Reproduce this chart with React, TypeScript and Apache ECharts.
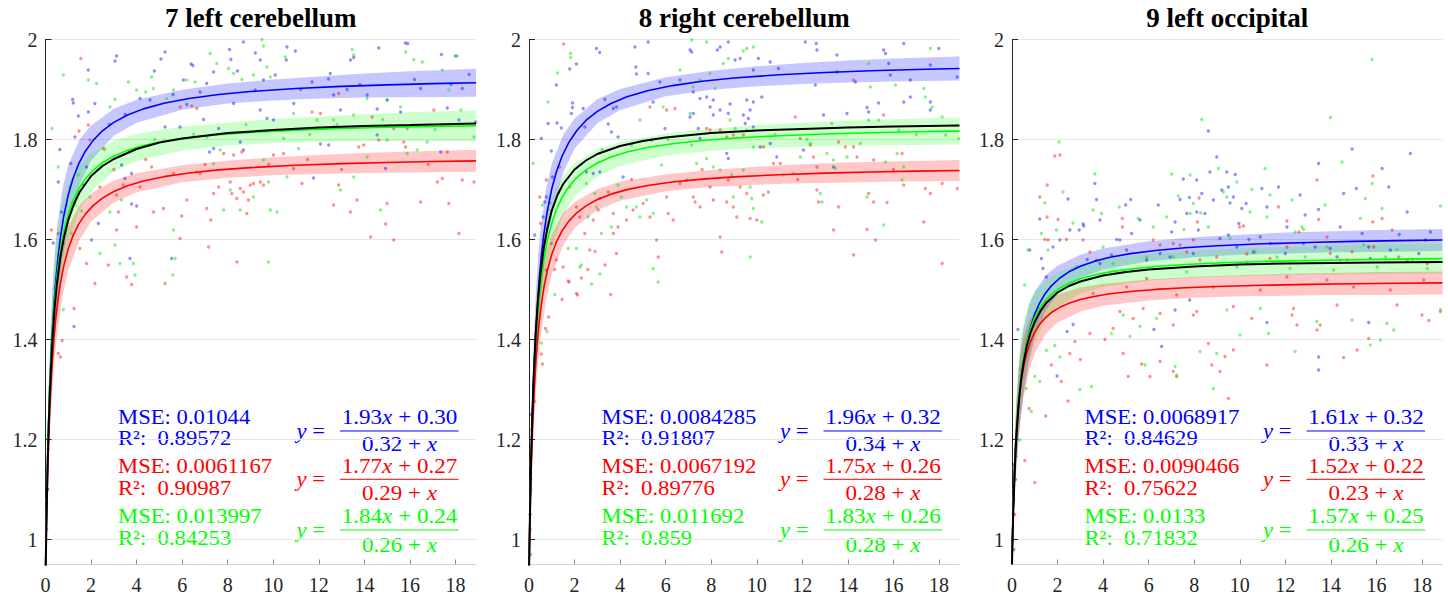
import React, { useEffect, useRef } from "react";
import * as echarts from "echarts";

// ---------------- DATA ----------------
const panelTitles = ["7 left cerebellum", "8 right cerebellum", "9 left occipital"];
const xTicks = [0, 2, 4, 6, 8, 10, 12, 14, 16, 18];
const yTicks = [1, 1.2, 1.4, 1.6, 1.8, 2];

// fitted model y = (a x + b) / (c + x) : [a, b, c]
const fitBlue = [[1.93, 0.30, 0.32], [1.96, 0.32, 0.34], [1.61, 0.32, 0.33]];
const fitRed = [[1.77, 0.27, 0.29], [1.75, 0.26, 0.28], [1.52, 0.22, 0.23]];
const fitGreen = [[1.84, 0.24, 0.26], [1.83, 0.26, 0.28], [1.57, 0.25, 0.26]];

const mseBlue = ["0.01044", "0.0084285", "0.0068917"];
const r2Blue = ["0.89572", "0.91807", "0.84629"];
const mseRed = ["0.0061167", "0.0067192", "0.0090466"];
const r2Red = ["0.90987", "0.89776", "0.75622"];
const mseGreen = ["0.013997", "0.011692", "0.0133"];
const r2Green = ["0.84253", "0.859", "0.71832"];

// x positions at which the fitted curves are drawn
const curveX = [0, 0.01, 0.02, 0.035, 0.05, 0.075, 0.1, 0.13, 0.16, 0.2, 0.25, 0.3, 0.37, 0.45, 0.55, 0.65, 0.8, 1, 1.2, 1.45, 1.75, 2.1, 2.5, 3, 3.6, 4.3, 5.2, 6.3, 7.6, 9, 11, 13, 15, 17, 18.9];

// confidence band half widths read at bandX
const bandX = [0, 0.05, 0.1, 0.15, 0.2, 0.3, 0.4, 0.5, 0.75, 1, 1.5, 2, 3, 4, 6, 8, 10, 12, 14, 16, 18.9];
const halfBlue = [
  [0.03, 0.04, 0.05, 0.06, 0.07, 0.08, 0.08, 0.08, 0.07, 0.06, 0.045, 0.035, 0.027, 0.023, 0.02, 0.02, 0.021, 0.022, 0.024, 0.026, 0.028],
  [0.03, 0.04, 0.05, 0.06, 0.07, 0.075, 0.075, 0.07, 0.06, 0.05, 0.038, 0.03, 0.024, 0.021, 0.019, 0.019, 0.02, 0.021, 0.022, 0.023, 0.024],
  [0.03, 0.04, 0.05, 0.06, 0.065, 0.07, 0.07, 0.065, 0.055, 0.045, 0.035, 0.028, 0.023, 0.021, 0.02, 0.02, 0.02, 0.021, 0.021, 0.022, 0.022],
];
const halfRed = [
  [0.03, 0.04, 0.045, 0.05, 0.055, 0.06, 0.06, 0.058, 0.05, 0.044, 0.035, 0.028, 0.022, 0.019, 0.017, 0.017, 0.018, 0.019, 0.02, 0.021, 0.022],
  [0.03, 0.04, 0.045, 0.05, 0.055, 0.06, 0.06, 0.055, 0.048, 0.04, 0.032, 0.026, 0.021, 0.019, 0.017, 0.017, 0.018, 0.019, 0.02, 0.02, 0.021],
  [0.03, 0.04, 0.05, 0.055, 0.06, 0.065, 0.065, 0.06, 0.05, 0.042, 0.033, 0.028, 0.024, 0.022, 0.021, 0.021, 0.021, 0.022, 0.022, 0.023, 0.023],
];
const halfGreen = [
  [0.03, 0.04, 0.05, 0.06, 0.07, 0.08, 0.08, 0.08, 0.07, 0.06, 0.046, 0.038, 0.031, 0.027, 0.024, 0.023, 0.024, 0.025, 0.027, 0.029, 0.031],
  [0.03, 0.04, 0.05, 0.06, 0.065, 0.07, 0.07, 0.065, 0.058, 0.05, 0.04, 0.033, 0.027, 0.024, 0.022, 0.022, 0.023, 0.024, 0.025, 0.026, 0.027],
  [0.03, 0.045, 0.055, 0.065, 0.07, 0.075, 0.075, 0.07, 0.06, 0.05, 0.04, 0.034, 0.03, 0.028, 0.027, 0.027, 0.028, 0.028, 0.029, 0.03, 0.03],
];

// black (pooled) curve
const blackX = [0, 0.03, 0.06, 0.1, 0.15, 0.2, 0.3, 0.4, 0.5, 0.65, 0.8, 1, 1.25, 1.5, 2, 2.5, 3, 4, 5, 6, 8, 10, 12, 14, 16, 18.9];
const blackY = [
  [0.925, 1.0, 1.075, 1.16, 1.24, 1.303, 1.397, 1.463, 1.511, 1.564, 1.602, 1.639, 1.671, 1.695, 1.727, 1.747, 1.761, 1.781, 1.794, 1.802, 1.813, 1.819, 1.824, 1.827, 1.829, 1.832],
  [0.929, 1.019, 1.094, 1.176, 1.256, 1.32, 1.415, 1.481, 1.53, 1.584, 1.621, 1.658, 1.689, 1.711, 1.74, 1.758, 1.771, 1.787, 1.797, 1.804, 1.813, 1.818, 1.821, 1.824, 1.826, 1.828],
  [0.95, 1.01, 1.06, 1.115, 1.17, 1.212, 1.276, 1.32, 1.352, 1.387, 1.412, 1.435, 1.457, 1.473, 1.494, 1.507, 1.516, 1.528, 1.535, 1.54, 1.546, 1.55, 1.552, 1.553, 1.554, 1.555],
];

// scatter samples
const p1Blue = [
  [8.69, 1.995], [6.39, 1.951], [6.47, 1.948], [3.05, 1.957], [3.12, 1.967], [1.88, 1.939], [1.19, 1.88], [1.22, 1.873], [1.44, 1.847], [0.63, 1.78],
  [0.56, 1.715], [0.7, 1.655], [0.34, 1.593], [1.11, 1.752], [1.88, 1.855], [2.17, 1.872], [5.25, 1.975], [5.07, 1.961], [4.78, 1.937], [8.08, 1.98],
  [8.14, 1.96], [8.43, 1.937], [9.21, 1.973], [9.43, 1.959], [10.6, 1.985], [10.97, 1.977], [10.57, 1.959], [14.63, 1.983], [15.8, 1.993], [15.9, 1.992],
  [17.38, 1.97], [18.0, 1.967], [16.47, 1.902], [18.3, 1.902], [12.5, 1.932], [12.43, 1.921], [13.39, 1.959], [13.53, 1.964], [13.24, 1.9], [17.64, 1.863],
  [15.59, 1.855], [14.56, 1.861], [12.95, 1.859], [12.07, 1.791], [12.43, 1.789], [11.77, 1.723], [14.93, 1.742], [14.56, 1.809], [17.35, 1.775], [18.15, 1.839],
  [18.89, 1.835], [7.2, 1.775], [7.38, 1.782], [8.55, 1.795], [8.69, 1.779], [7.6, 1.822], [9.43, 1.859], [9.72, 1.842], [10.01, 1.839], [8.26, 1.872],
  [6.94, 1.84], [5.91, 1.825], [5.25, 1.825], [3.78, 1.732], [3.49, 1.722], [3.34, 1.749], [3.78, 1.671], [4.0, 1.667], [3.71, 1.562], [5.54, 1.562],
  [2.32, 1.632], [2.02, 1.599], [1.66, 1.709], [1.8, 1.745], [1.29, 1.805], [9.57, 1.919], [7.38, 1.935], [7.08, 1.912], [10.09, 1.929], [11.7, 1.915],
  [12.65, 1.889], [14.12, 1.889], [15.0, 1.879], [4.59, 1.879], [4.15, 1.882], [6.06, 1.919], [6.79, 1.895], [9.21, 1.899], [10.9, 1.872], [1.25, 1.426],
  [0.05, 1.02], [0.08, 1.1], [0.12, 1.2], [2.8, 1.83], [3.5, 1.85], [5.6, 1.89], [6.2, 1.87], [11.2, 1.9], [13.8, 1.91], [16.2, 1.92], [17.8, 1.91], [18.6, 1.93],
];
const p1Red = [
  [1.55, 1.962], [1.47, 1.817], [1.88, 1.829], [1.95, 1.799], [2.54, 1.782], [0.26, 1.619], [0.56, 1.612], [0.78, 1.592], [1.51, 1.582], [1.8, 1.552],
  [2.17, 1.512], [2.76, 1.549], [3.56, 1.525], [3.78, 1.51], [5.25, 1.512], [3.12, 1.619], [3.2, 1.655], [3.12, 1.689], [3.42, 1.709], [4.0, 1.625],
  [4.74, 1.655], [5.18, 1.662], [5.91, 1.602], [5.98, 1.647], [7.16, 1.585], [7.26, 1.639], [7.38, 1.692], [7.6, 1.705], [8.11, 1.715], [8.18, 1.692],
  [8.4, 1.682], [8.55, 1.702], [8.69, 1.695], [8.84, 1.652], [8.91, 1.679], [8.99, 1.709], [9.13, 1.712], [9.43, 1.715], [9.57, 1.709], [8.4, 1.555],
  [7.82, 1.772], [8.26, 1.769], [8.62, 1.775], [10.01, 1.769], [10.45, 1.772], [10.89, 1.742], [11.26, 1.712], [11.7, 1.855], [12.07, 1.852], [12.65, 1.669],
  [12.87, 1.709], [13.39, 1.655], [13.75, 1.785], [13.97, 1.789], [13.68, 1.679], [14.27, 1.605], [14.63, 1.799], [15.0, 1.672], [14.93, 1.631], [15.29, 1.599],
  [15.73, 1.795], [15.81, 1.785], [16.47, 1.675], [17.2, 1.715], [17.42, 1.722], [17.71, 1.672], [18.15, 1.612], [18.3, 1.719], [18.81, 1.715], [17.64, 1.775],
  [15.88, 1.822], [15.29, 1.822], [6.64, 1.862], [6.42, 1.867], [5.91, 1.865], [17.05, 1.859], [12.65, 1.825], [14.34, 1.845], [12.87, 1.892], [6.2, 1.679],
  [7.08, 1.662], [4.66, 1.745], [5.62, 1.732], [6.79, 1.732], [4.15, 1.705], [2.39, 1.705], [1.25, 1.462], [0.73, 1.398], [0.56, 1.372], [0.66, 1.365],
  [0.12, 1.18], [0.1, 1.1], [0.2, 1.3], [3.0, 1.74], [4.4, 1.76], [7.0, 1.75], [9.8, 1.75], [11.5, 1.76], [13.0, 1.74], [16.8, 1.75],
];
const p1Green = [
  [0.78, 1.929], [0.29, 1.822], [0.56, 1.745], [0.92, 1.669], [1.14, 1.612], [1.29, 1.669], [1.58, 1.657], [1.95, 1.685], [2.39, 1.572], [3.05, 1.589],
  [3.27, 1.552], [3.93, 1.529], [5.59, 1.529], [5.69, 1.562], [5.62, 1.619], [3.86, 1.552], [2.83, 1.865], [3.05, 1.88], [3.64, 1.915], [4.0, 1.899],
  [4.66, 1.925], [4.4, 1.895], [4.74, 1.902], [5.32, 1.882], [5.62, 1.899], [6.2, 1.919], [6.57, 1.915], [7.23, 1.972], [7.52, 1.952], [8.04, 1.942],
  [8.26, 1.932], [8.62, 1.92], [9.13, 1.929], [9.5, 2.0], [9.57, 1.987], [9.72, 1.945], [9.87, 1.925], [10.53, 1.965], [13.46, 1.98], [13.53, 1.969],
  [16.17, 1.96], [15.81, 1.975], [16.54, 1.955], [17.42, 1.939], [18.08, 1.967], [17.71, 1.899], [18.23, 1.859], [15.59, 1.865], [15.0, 1.879], [14.12, 1.882],
  [13.53, 1.849], [12.65, 1.839], [11.92, 1.839], [10.89, 1.852], [10.45, 1.802], [11.11, 1.782], [10.6, 1.725], [9.57, 1.759], [9.79, 1.715], [9.87, 1.659],
  [10.16, 1.655], [9.79, 1.555], [9.13, 1.685], [8.55, 1.659], [7.82, 1.659], [8.11, 1.699], [7.08, 1.805], [7.38, 1.752], [7.67, 1.779], [6.64, 1.735],
  [12.95, 1.699], [13.53, 1.725], [14.71, 1.659], [15.88, 1.772], [16.32, 1.779], [16.76, 1.795], [15.0, 1.799], [18.81, 1.805], [14.12, 1.765], [3.34, 1.679],
  [2.83, 1.655], [1.44, 1.729], [1.07, 1.705], [2.24, 1.912], [1.88, 1.919], [0.78, 1.46], [0.19, 1.305], [0.1, 1.2], [0.05, 1.08],
  [2.6, 1.78], [4.8, 1.8], [6.5, 1.81], [8.8, 1.83], [11.6, 1.81], [12.8, 1.83], [14.8, 1.84], [17.1, 1.82],
];

const p2Blue = [
  [4.65, 1.985], [5.23, 1.995], [4.72, 1.931], [4.69, 1.945], [2.96, 1.982], [3.1, 1.974], [2.08, 1.951], [1.79, 1.941], [1.2, 1.909], [1.23, 1.833],
  [1.42, 1.823], [1.91, 1.873], [1.91, 1.864], [1.86, 1.852], [2.38, 1.862], [2.45, 1.825], [0.84, 1.832], [0.54, 1.802], [0.98, 1.777], [1.03, 1.725],
  [0.76, 1.685], [0.69, 1.675], [0.62, 1.645], [0.25, 1.609], [3.33, 1.88], [3.7, 1.862], [3.84, 1.865], [3.48, 1.831], [3.62, 1.815], [3.91, 1.805],
  [4.13, 1.725], [2.52, 1.735], [2.82, 1.732], [3.11, 1.735], [5.45, 1.875], [5.97, 1.822], [7.07, 1.979], [7.14, 1.975], [8.39, 1.985], [8.75, 1.995],
  [8.27, 1.979], [9.05, 1.959], [9.27, 1.962], [10.07, 1.962], [10.59, 1.955], [9.85, 1.939], [10.95, 1.942], [12.13, 1.995], [12.61, 1.992], [12.64, 1.979],
  [13.52, 1.969], [15.57, 1.979], [15.65, 1.972], [16.45, 1.992], [17.99, 1.982], [15.79, 1.952], [17.62, 1.949], [7.21, 1.895], [7.51, 1.882], [7.8, 1.885],
  [7.95, 1.865], [8.09, 1.879], [8.39, 1.859], [8.75, 1.852], [8.83, 1.871], [9.56, 1.879], [9.71, 1.859], [9.85, 1.875], [9.41, 1.849], [10.22, 1.885],
  [7.07, 1.845], [7.21, 1.852], [7.43, 1.822], [7.51, 1.802], [8.09, 1.849], [9.49, 1.832], [9.63, 1.842], [9.85, 1.825], [8.68, 1.772], [8.75, 1.762],
  [10.15, 1.785], [10.59, 1.792], [10.88, 1.765], [12.05, 1.779], [12.93, 1.849], [13.96, 1.852], [14.91, 1.855], [14.84, 1.864], [15.35, 1.873], [16.45, 1.875],
  [17.62, 1.875], [17.62, 1.859], [12.57, 1.909], [13.52, 1.935], [14.33, 1.915], [15.86, 1.929], [16.74, 1.919], [18.8, 1.925], [13.37, 1.745], [16.74, 1.885],
  [5.75, 1.915], [6.63, 1.919], [5.23, 1.932], [0.05, 1.05], [0.08, 1.12], [0.1, 1.25], [0.06, 0.97],
];
const p2Red = [
  [1.52, 1.991], [0.47, 1.685], [0.51, 1.632], [0.91, 1.673], [0.98, 1.592], [1.2, 1.559], [1.5, 1.545], [1.72, 1.517], [2.08, 1.492], [0.76, 1.719],
  [1.35, 1.745], [1.79, 1.705], [2.08, 1.665], [2.23, 1.645], [2.45, 1.612], [2.67, 1.579], [2.82, 1.639], [3.04, 1.659], [3.11, 1.682], [3.48, 1.695],
  [3.7, 1.652], [3.7, 1.612], [3.84, 1.572], [3.91, 1.625], [4.28, 1.639], [4.57, 1.659], [5.01, 1.672], [5.31, 1.645], [5.6, 1.599], [5.67, 1.565],
  [6.11, 1.652], [6.33, 1.639], [6.63, 1.712], [6.92, 1.719], [7.21, 1.685], [7.29, 1.675], [7.51, 1.665], [7.95, 1.705], [8.09, 1.679], [8.39, 1.605],
  [8.46, 1.575], [8.68, 1.675], [8.75, 1.719], [8.97, 1.665], [9.12, 1.645], [9.27, 1.705], [9.56, 1.692], [9.71, 1.642], [10.0, 1.639], [10.29, 1.689],
  [10.51, 1.695], [10.73, 1.752], [6.04, 1.859], [6.41, 1.862], [5.31, 1.865], [5.38, 1.799], [7.8, 1.822], [7.95, 1.819], [8.39, 1.819], [8.68, 1.805],
  [8.97, 1.809], [9.41, 1.809], [10.29, 1.785], [11.03, 1.752], [11.69, 1.845], [11.91, 1.802], [12.35, 1.789], [12.49, 1.765], [12.64, 1.745], [13.59, 1.795],
  [13.89, 1.785], [14.25, 1.785], [14.25, 1.919], [12.71, 1.675], [12.64, 1.699], [13.37, 1.619], [13.59, 1.665], [14.25, 1.569], [14.91, 1.692], [15.13, 1.675],
  [15.21, 1.599], [14.84, 1.62], [15.72, 1.674], [16.45, 1.709], [17.33, 1.635], [17.4, 1.702], [17.62, 1.692], [18.14, 1.552], [18.8, 1.702], [18.14, 1.712],
  [15.57, 1.849], [16.38, 1.772], [14.4, 1.765], [15.13, 1.759], [6.04, 1.685], [0.59, 1.351], [0.54, 1.371], [0.72, 1.422], [0.86, 1.445], [0.76, 1.539],
  [1.13, 1.54], [1.45, 1.48], [1.76, 1.515], [2.13, 1.489], [2.58, 1.54], [2.3, 1.523], [2.9, 1.576], [3.34, 1.549], [3.59, 1.49], [0.25, 1.276],
  [0.05, 1.02], [0.07, 1.1], [0.08, 1.18], [4.5, 1.72], [7.6, 1.74], [11.8, 1.72], [16.0, 1.74],
];
const p2Green = [
  [0.18, 1.752], [1.25, 1.933], [1.83, 1.972], [1.83, 1.964], [0.84, 1.875], [0.59, 1.669], [0.84, 1.659], [1.72, 1.582], [2.08, 1.582], [2.23, 1.545],
  [2.52, 1.712], [2.6, 1.645], [2.89, 1.692], [2.96, 1.665], [3.18, 1.612], [3.62, 1.625], [3.91, 1.709], [4.06, 1.685], [4.28, 1.665], [4.72, 1.665],
  [4.87, 1.645], [5.16, 1.679], [5.45, 1.652], [5.67, 1.515], [5.82, 1.749], [5.45, 1.542], [6.63, 1.939], [7.14, 1.999], [7.8, 1.995], [7.21, 1.905],
  [7.51, 1.919], [7.95, 1.932], [8.53, 1.952], [8.75, 1.962], [9.41, 1.977], [9.56, 1.982], [9.85, 1.985], [8.17, 1.902], [7.07, 1.852], [8.83, 1.839],
  [9.05, 1.822], [9.56, 1.819], [9.85, 1.785], [7.14, 1.789], [7.36, 1.752], [7.8, 1.762], [8.09, 1.745], [8.39, 1.739], [8.9, 1.729], [9.41, 1.739],
  [9.71, 1.705], [9.78, 1.682], [8.97, 1.685], [9.85, 1.662], [10.22, 1.635], [9.71, 1.565], [10.59, 1.805], [11.17, 1.729], [11.61, 1.732], [12.35, 1.792],
  [12.79, 1.692], [12.86, 1.675], [13.37, 1.759], [13.45, 1.742], [13.3, 1.832], [13.96, 1.765], [14.91, 1.952], [14.99, 1.905], [14.91, 1.839], [15.35, 1.839],
  [15.65, 1.755], [16.16, 1.772], [16.23, 1.819], [16.09, 1.909], [16.45, 1.745], [16.38, 1.719], [17.4, 1.885], [17.33, 1.902], [17.62, 1.982], [17.7, 1.865],
  [18.14, 1.845], [18.29, 1.809], [18.87, 1.802], [14.84, 1.685], [15.57, 1.629], [14.55, 1.792], [13.08, 1.772], [11.91, 1.765], [4.5, 1.789], [5.89, 1.865],
  [4.87, 1.839], [3.11, 1.531], [2.75, 1.511], [1.13, 1.49], [0.79, 1.416], [0.54, 1.393], [2.3, 1.549], [0.05, 1.05], [0.07, 1.15], [0.1, 1.22], [0.06, 1.1],
  [3.2, 1.78], [6.1, 1.8], [10.8, 1.81], [12.2, 1.8], [17.0, 1.81],
];

const p3Blue = [
  [1.22, 1.641], [0.78, 1.579], [1.29, 1.562], [1.36, 1.542], [1.51, 1.525], [1.8, 1.585], [2.1, 1.599], [3.12, 1.631], [3.15, 1.627], [2.95, 1.619],
  [3.64, 1.712], [3.71, 1.68], [2.46, 1.681], [2.54, 1.619], [3.86, 1.639], [4.99, 1.669], [5.21, 1.68], [5.62, 1.639], [5.25, 1.612], [4.74, 1.599],
  [4.37, 1.569], [6.42, 1.669], [7.01, 1.615], [7.16, 1.635], [7.38, 1.68], [7.52, 1.721], [7.67, 1.652], [7.79, 1.684], [8.11, 1.719], [8.11, 1.655],
  [8.18, 1.619], [8.33, 1.692], [8.47, 1.652], [8.62, 1.817], [8.84, 1.679], [8.69, 1.735], [8.99, 1.765], [9.21, 1.699], [9.43, 1.735], [9.5, 1.705],
  [9.57, 1.673], [9.72, 1.685], [9.8, 1.73], [9.96, 1.632], [10.09, 1.662], [10.28, 1.672], [9.5, 1.609], [9.13, 1.602], [10.6, 1.575], [10.97, 1.702],
  [11.19, 1.665], [11.7, 1.705], [12.07, 1.625], [12.65, 1.689], [12.87, 1.649], [13.46, 1.752], [13.46, 1.66], [14.41, 1.625], [14.56, 1.692], [14.93, 1.781],
  [15.12, 1.702], [15.37, 1.612], [15.66, 1.585], [16.25, 1.742], [16.54, 1.705], [17.35, 1.655], [17.49, 1.772], [18.37, 1.615], [17.86, 1.572], [13.97, 1.582],
  [13.31, 1.585], [12.0, 1.572], [11.33, 1.592], [10.9, 1.605], [6.94, 1.565], [5.91, 1.559], [6.5, 1.572], [3.86, 1.552], [5.03, 1.579], [7.96, 1.572],
  [9.87, 1.585], [12.8, 1.592], [14.27, 1.565], [15.73, 1.562], [16.61, 1.579], [18.15, 1.599], [2.42, 1.416], [2.68, 1.43], [0.26, 1.42], [6.23, 1.42],
  [11.19, 1.434], [13.46, 1.365], [13.46, 1.339], [15.66, 1.434], [7.16, 1.459], [7.8, 1.479], [0.1, 1.15], [0.15, 1.12], [0.05, 1.05], [0.08, 0.98],
  [1.98, 1.327], [6.57, 1.386], [3.3, 1.56], [4.6, 1.6], [10.4, 1.6], [17.0, 1.61],
];
const p3Red = [
  [1.22, 1.685], [1.55, 1.709], [1.88, 1.767], [2.1, 1.769], [1.54, 1.645], [2.02, 1.64], [1.44, 1.6], [1.58, 1.599], [2.39, 1.6], [3.12, 1.599],
  [3.42, 1.575], [3.71, 1.559], [4.84, 1.642], [4.85, 1.625], [6.2, 1.599], [6.5, 1.589], [7.08, 1.592], [7.38, 1.589], [8.14, 1.635], [8.21, 1.683],
  [7.96, 1.599], [7.67, 1.575], [8.25, 1.559], [8.99, 1.565], [9.99, 1.625], [10.16, 1.627], [10.31, 1.571], [11.7, 1.665], [12.07, 1.637], [12.6, 1.615],
  [13.39, 1.719], [13.46, 1.64], [13.83, 1.605], [14.41, 1.559], [15.84, 1.727], [15.84, 1.635], [16.25, 1.642], [16.69, 1.619], [16.98, 1.565], [15.88, 1.585],
  [14.93, 1.575], [13.97, 1.572], [12.07, 1.585], [11.33, 1.562], [17.35, 1.559], [18.23, 1.552], [0.75, 1.262], [1.0, 1.114], [0.56, 1.158], [1.48, 1.247],
  [2.46, 1.277], [2.17, 1.316], [1.73, 1.349], [2.54, 1.372], [3.0, 1.36], [3.42, 1.412], [2.76, 1.396], [4.08, 1.4], [4.44, 1.422], [4.88, 1.372],
  [5.1, 1.326], [5.69, 1.351], [6.06, 1.326], [6.5, 1.356], [7.08, 1.429], [7.08, 1.336], [7.23, 1.326], [7.96, 1.449], [8.11, 1.456], [8.62, 1.392],
  [8.77, 1.349], [9.13, 1.336], [9.35, 1.366], [9.5, 1.282], [9.72, 1.379], [10.53, 1.442], [11.19, 1.349], [12.29, 1.449], [12.51, 1.429], [13.39, 1.419],
  [13.53, 1.429], [14.27, 1.469], [14.56, 1.364], [15.15, 1.379], [15.66, 1.402], [18.0, 1.449], [18.3, 1.438], [18.81, 1.456], [16.9, 1.469], [12.36, 1.462],
  [9.72, 1.466], [6.5, 1.452], [5.76, 1.462], [5.32, 1.442], [4.74, 1.456], [0.05, 1.0], [0.08, 1.1], [0.1, 1.15], [0.12, 1.05], [3.56, 1.492],
  [5.03, 1.505], [7.23, 1.489], [8.84, 1.505], [10.9, 1.499], [13.83, 1.519], [15.0, 1.505], [16.61, 1.499], [18.08, 1.519], [5.91, 1.522], [12.07, 1.525],
];
const p3Green = [
  [2.07, 1.795], [8.33, 1.84], [13.98, 1.844], [15.81, 1.96], [1.44, 1.673], [1.58, 1.579], [0.7, 1.579], [0.56, 1.509], [2.68, 1.633], [3.56, 1.659],
  [3.64, 1.731], [3.93, 1.652], [4.0, 1.585], [4.71, 1.665], [5.54, 1.642], [7.01, 1.731], [7.3, 1.687], [7.55, 1.62], [7.82, 1.729], [7.96, 1.672],
  [8.28, 1.653], [8.62, 1.625], [9.06, 1.742], [9.28, 1.695], [9.43, 1.685], [9.87, 1.715], [10.45, 1.655], [10.53, 1.7], [11.11, 1.742], [11.19, 1.645],
  [11.33, 1.689], [12.43, 1.615], [12.8, 1.62], [12.73, 1.625], [13.75, 1.669], [14.49, 1.755], [15.29, 1.642], [15.51, 1.682], [15.81, 1.712], [16.25, 1.662],
  [16.9, 1.58], [18.81, 1.667], [12.29, 1.679], [2.24, 1.695], [1.95, 1.619], [1.29, 1.612], [6.2, 1.625], [6.79, 1.645], [7.82, 1.652], [9.57, 1.602],
  [10.31, 1.555], [11.63, 1.565], [12.87, 1.565], [14.71, 1.559], [16.4, 1.565], [17.57, 1.559], [15.44, 1.589], [13.83, 1.585], [10.67, 1.575], [7.08, 1.565],
  [5.91, 1.565], [4.44, 1.552], [1.0, 1.326], [1.51, 1.378], [1.88, 1.388], [2.1, 1.365], [2.98, 1.3], [3.49, 1.306], [4.37, 1.412], [4.88, 1.449],
  [5.18, 1.406], [5.62, 1.426], [5.84, 1.349], [6.35, 1.442], [7.16, 1.346], [7.23, 1.329], [8.26, 1.376], [8.84, 1.302], [8.99, 1.372], [9.43, 1.459],
  [10.01, 1.409], [10.9, 1.462], [11.26, 1.412], [12.43, 1.376], [13.39, 1.436], [14.93, 1.439], [15.73, 1.389], [16.17, 1.399], [16.46, 1.432], [16.76, 1.419],
  [18.81, 1.46], [0.41, 1.339], [0.63, 1.302], [0.85, 1.256], [1.22, 1.316], [0.34, 1.199], [0.19, 1.166], [0.05, 1.0], [0.08, 1.08], [2.83, 1.545],
  [5.32, 1.539], [7.67, 1.535], [9.87, 1.545], [12.21, 1.542], [14.12, 1.539], [16.03, 1.545], [18.23, 1.542],
];

const ptsBlue = [p1Blue, p2Blue, p3Blue];
const ptsRed = [p1Red, p2Red, p3Red];
const ptsGreen = [p1Green, p2Green, p3Green];

// ---------------- LAYOUT / STYLE ----------------
const X_MAX = 18.9;
const Y_MIN = 0.95;
const Y_MAX = 2;
const gridLeft = [45.5, 529, 1012];
const gridWidth = 430.5;
const gridTop = 39.5;
const gridHeight = 525;
const SERIF = "Liberation Serif";
const BLUE = "#0000ff";
const RED = "#ff0000";
const GREEN = "#00ff00";
const AXIS_TXT = "#262626";
const ANN_SIZE = 21;

function fitValue(f: number[], x: number) {
  return (f[0] * x + f[1]) / (f[2] + x);
}

function bandSeries(i: number, f: number[], half: number[], fill: string) {
  const data = bandX.map((x, k) => {
    const c = fitValue(f, x);
    return [x, c - half[k], c + half[k]];
  });
  return {
    type: "custom",
    xAxisIndex: i,
    yAxisIndex: i,
    silent: true,
    clip: true,
    encode: { x: 0, y: [1, 2] },
    data,
    renderItem: (params: any, api: any) => {
      if (params.dataIndex !== 0) return null;
      const bottom = api.coord([0, Y_MIN])[1];
      const top = api.coord([0, Y_MAX])[1];
      const up = data.map((d) => api.coord([d[0], d[2]]));
      const lo = data.map((d) => api.coord([d[0], d[1]])).reverse();
      const pts = up.concat(lo).map((p: number[]) => [p[0], Math.min(bottom, Math.max(top, p[1]))]);
      return { type: "polygon", shape: { points: pts }, style: { fill } };
    },
  };
}

function scatterSeries(i: number, pts: number[][], color: string) {
  return {
    type: "scatter",
    xAxisIndex: i,
    yAxisIndex: i,
    silent: true,
    symbol: "circle",
    symbolSize: 3.3,
    itemStyle: { color },
    data: pts,
  };
}

function curveSeries(i: number, f: number[], color: string) {
  return {
    type: "line",
    xAxisIndex: i,
    yAxisIndex: i,
    silent: true,
    showSymbol: false,
    symbol: "none",
    clip: true,
    lineStyle: { color, width: 1.6 },
    data: curveX.map((x) => [x, fitValue(f, x)]),
  };
}

function annotate(i: number) {
  const L = gridLeft[i];
  const els: any[] = [];
  const rows = [
    { c: BLUE, mse: mseBlue[i], r2: r2Blue[i], f: fitBlue[i], y1: 417.3, y2: 438.3, num: 416.7, bar: 431, den: 443.5 },
    { c: RED, mse: mseRed[i], r2: r2Red[i], f: fitRed[i], y1: 466.7, y2: 488.3, num: 465.5, bar: 479.3, den: 492.7 },
    { c: GREEN, mse: mseGreen[i], r2: r2Green[i], f: fitGreen[i], y1: 516.7, y2: 538.3, num: 515.7, bar: 530, den: 545 },
  ];
  const mk = (x: number, y: number, text: string, fill: string, align: string, sx: number) => ({
    type: "text",
    x,
    y,
    scaleX: sx,
    silent: true,
    style: {
      text,
      fill,
      fontFamily: SERIF,
      fontSize: ANN_SIZE,
      textAlign: align,
      textVerticalAlign: "middle",
      align,
      verticalAlign: "middle",
      rich: { i: { fontFamily: SERIF, fontSize: ANN_SIZE, fontStyle: "italic", fill } },
    },
  });
  rows.forEach((r) => {
    els.push(mk(L + 72.5, r.y1, `MSE: ${r.mse}`, r.c, "left", 1.08));
    els.push(mk(L + 72.5, r.y2, `R\u00B2:  ${r.r2}`, r.c, "left", 1.08));
    els.push(mk(L + 251, r.bar, `{i|y} = `, r.c, "left", 1.08));
    els.push(mk(L + 354, r.num, `${r.f[0].toFixed(2)}{i|x} + ${r.f[1].toFixed(2)}`, r.c, "center", 1.1));
    els.push(mk(L + 354, r.den, `${r.f[2].toFixed(2)} + {i|x}`, r.c, "center", 1.1));
    els.push({
      type: "line",
      silent: true,
      shape: { x1: L + 294.5, y1: r.bar, x2: L + 413, y2: r.bar },
      style: { stroke: r.c, lineWidth: 1 },
    });
  });
  return els;
}

function buildOption() {
  const idx = [0, 1, 2];
  const series: any[] = [];
  idx.forEach((i) => {
    series.push(bandSeries(i, fitBlue[i], halfBlue[i], "rgba(0,0,255,0.22)"));
    series.push(bandSeries(i, fitGreen[i], halfGreen[i], "rgba(0,255,0,0.2)"));
    series.push(bandSeries(i, fitRed[i], halfRed[i], "rgba(255,0,0,0.22)"));
    series.push(scatterSeries(i, ptsBlue[i], "rgba(0,0,255,0.55)"));
    series.push(scatterSeries(i, ptsRed[i], "rgba(255,0,0,0.55)"));
    series.push(scatterSeries(i, ptsGreen[i], "rgba(0,225,0,0.6)"));
    series.push(curveSeries(i, fitBlue[i], BLUE));
    series.push(curveSeries(i, fitGreen[i], GREEN));
    series.push(curveSeries(i, fitRed[i], RED));
    series.push({
      type: "line",
      xAxisIndex: i,
      yAxisIndex: i,
      silent: true,
      showSymbol: false,
      symbol: "none",
      clip: true,
      lineStyle: { color: "#000", width: 2 },
      data: blackX.map((x, k) => [x, blackY[i][k]]),
    });
  });

  return {
    animation: false,
    backgroundColor: "#fff",
    textStyle: { fontFamily: SERIF },
    title: idx.map((i) => ({
      text: panelTitles[i],
      left: gridLeft[i] + gridWidth / 2,
      top: 4,
      textAlign: "center",
      padding: 0,
      textStyle: { fontFamily: SERIF, fontWeight: "bold", fontSize: 27, color: "#000" },
    })),
    grid: idx.map((i) => ({ left: gridLeft[i], top: gridTop, width: gridWidth, height: gridHeight, containLabel: false })),
    xAxis: idx.map((i) => ({
      type: "value",
      gridIndex: i,
      min: 0,
      max: X_MAX,
      interval: 2,
      axisLine: { show: true, lineStyle: { color: "#d4d4d4", width: 1 } },
      axisTick: { show: true, inside: true, length: 5, customValues: xTicks, lineStyle: { color: "#8a8a8a" } },
      axisLabel: {
        customValues: xTicks,
        margin: 10,
        color: AXIS_TXT,
        fontFamily: SERIF,
        fontSize: 20,
        formatter: (v: number) => (Math.abs(v - Math.round(v)) < 1e-6 && Math.round(v) % 2 === 0 ? String(Math.round(v)) : ""),
      },
      splitLine: { show: false },
    })),
    yAxis: idx.map((i) => ({
      type: "value",
      gridIndex: i,
      min: Y_MIN,
      max: Y_MAX,
      interval: 0.05,
      axisLine: { show: true, lineStyle: { color: "#262626", width: 1 } },
      axisTick: { show: true, inside: true, length: 6, customValues: yTicks, lineStyle: { color: "#262626" } },
      axisLabel: {
        customValues: yTicks,
        margin: 8,
        color: AXIS_TXT,
        fontFamily: SERIF,
        fontSize: 20,
        formatter: (v: number) => (Math.abs(v * 5 - Math.round(v * 5)) < 1e-6 ? String(+v.toFixed(1)) : ""),
      },
      splitLine: { show: true, lineStyle: { color: "#e6e6e6", width: 1 } },
    })),
    graphic: { elements: idx.flatMap((i) => annotate(i)) },
    series,
  };
}

export default function App() {
  const ref = useRef<HTMLDivElement>(null);
  useEffect(() => {
    if (!ref.current) return;
    const chart = echarts.init(ref.current, undefined, { renderer: "svg" });
    chart.setOption(buildOption() as any);
    return () => chart.dispose();
  }, []);
  return (
    <div
      ref={ref}
      style={{ position: "fixed", left: 0, top: 0, width: 1448, height: 598, background: "#fff" }}
    />
  );
}
